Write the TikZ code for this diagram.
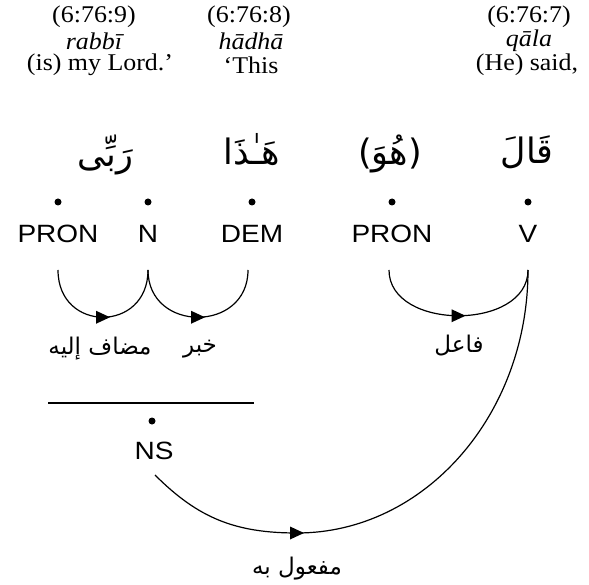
\documentclass[tikz,border=0pt]{standalone}
\usepackage{fontspec}
\TeXXeTstate=1
\newfontfamily\hdrfont[FakeStretch=1.08]{Liberation Serif}
\newfontfamily\posfont[FakeStretch=1.12]{Liberation Sans}
\newfontfamily\arabfont[Script=Arabic]{DejaVu Sans}
\newfontfamily\parenfont{DejaVu Sans}
\usetikzlibrary{decorations.markings}
\tikzset{
  hdr/.style={inner sep=0pt, font=\hdrfont\fontsize{24}{26}\selectfont},
  hdri/.style={inner sep=0pt, font=\hdrfont\itshape\fontsize{24}{26}\selectfont},
  word/.style={inner sep=0pt, font=\arabfont\fontsize{35}{40}\selectfont},
  postag/.style={inner sep=0pt, font=\posfont\fontsize{25}{28}\selectfont},
  rel/.style={inner sep=0pt, font=\arabfont\fontsize{23}{28}\selectfont},
  dot/.style={circle, fill=black, inner sep=0pt, minimum size=7pt},
  arc/.style={line width=1.2pt},
  tri/.style={fill=black},
  midarrow/.style={postaction={decorate}, decoration={markings,
     mark=at position 0.5 with {\fill (-7pt,-6.5pt) -- (7pt,0pt) -- (-7pt,6.5pt) -- cycle;}}}
}
\begin{document}
\begin{tikzpicture}[x=1pt,y=-1pt]
\useasboundingbox (0,0) rectangle (589,585);
% headers
\node[hdr]  (h1a) at (94,17) {(6:76:9)};
\node[hdri] (h1b) at (94,41) {rabbī};
\node[hdr]  (h1c) at (100,65) {(is) my Lord.’};
\node[hdr]  (h2a) at (249,17) {(6:76:8)};
\node[hdri] (h2b) at (251,41) {hādhā};
\node[hdr]  (h2c) at (251,65) {‘This};
\node[hdr]  (h3a) at (529,17) {(6:76:7)};
\node[hdri] (h3b) at (529,41) {qāla};
\node[hdr]  (h3c) at (527,65) {(He) said,};
% arabic words
\node[word] (w1) at (105,155) {\beginR رَبِّى\endR};
\node[word] (w2) at (252,150) {\beginR هَـٰذَا\endR};
\node[word] (w3) at (390,154) {{\parenfont(}\beginR هُوَ\endR{\parenfont)}};
\node[word] (w4) at (527,152) {\beginR قَالَ\endR};
% dots
\node[dot] (d1) at (58,202) {};
\node[dot] (d2) at (148,202) {};
\node[dot] (d3) at (252,202) {};
\node[dot] (d4) at (392,202) {};
\node[dot] (d5) at (528,202) {};
% POS tags
\node[postag] (p1) at (58,234) {PRON};
\node[postag] (p2) at (148,234) {N};
\node[postag] (p3) at (252,234) {DEM};
\node[postag] (p4) at (392,234) {PRON};
\node[postag] (p5) at (528,234) {V};
% arc ends
\coordinate (e1) at (58,270);
\coordinate (e2) at (148,270);
\coordinate (e3) at (248,270);
\coordinate (e4) at (389,270);
\coordinate (e5) at (528,270);
% small arcs
\draw[arc, midarrow] (e1) .. controls +(0,63) and +(0,63) .. (e2);
\draw[arc, midarrow] (e2) .. controls +(0,63) and +(0,63) .. (e3);
\draw[arc, midarrow] (e4) .. controls +(0,61) and +(0,61) .. (e5);
% relation labels
\node[rel] (r1) at (100,349) {\beginR مضاف إليه\endR};
\node[rel] (r2) at (200,349) {\beginR خبر\endR};
\node[rel] (r3) at (459,346) {\beginR فاعل\endR};
% NS phrase
\coordinate (l1) at (48,403);
\coordinate (l2) at (254,403);
\draw[arc] (l1) -- (l2);
\node[dot] (d6) at (152,421) {};
\node[postag] (ns) at (154,451) {NS};
\coordinate (e6) at (155,475);
\coordinate (bot) at (297,533);
\draw[arc] (e6) .. controls (198,518) and (235,533) .. (bot)
           .. controls (424.5,533) and (528,415) .. (e5);
\fill[tri] ([xshift=-7pt,yshift=6.5pt]bot) -- ([xshift=7pt]bot) -- ([xshift=-7pt,yshift=-6.5pt]bot) -- cycle;
\node[rel] (r4) at (297,569) {\beginR مفعول به\endR};
\end{tikzpicture}
\end{document}
